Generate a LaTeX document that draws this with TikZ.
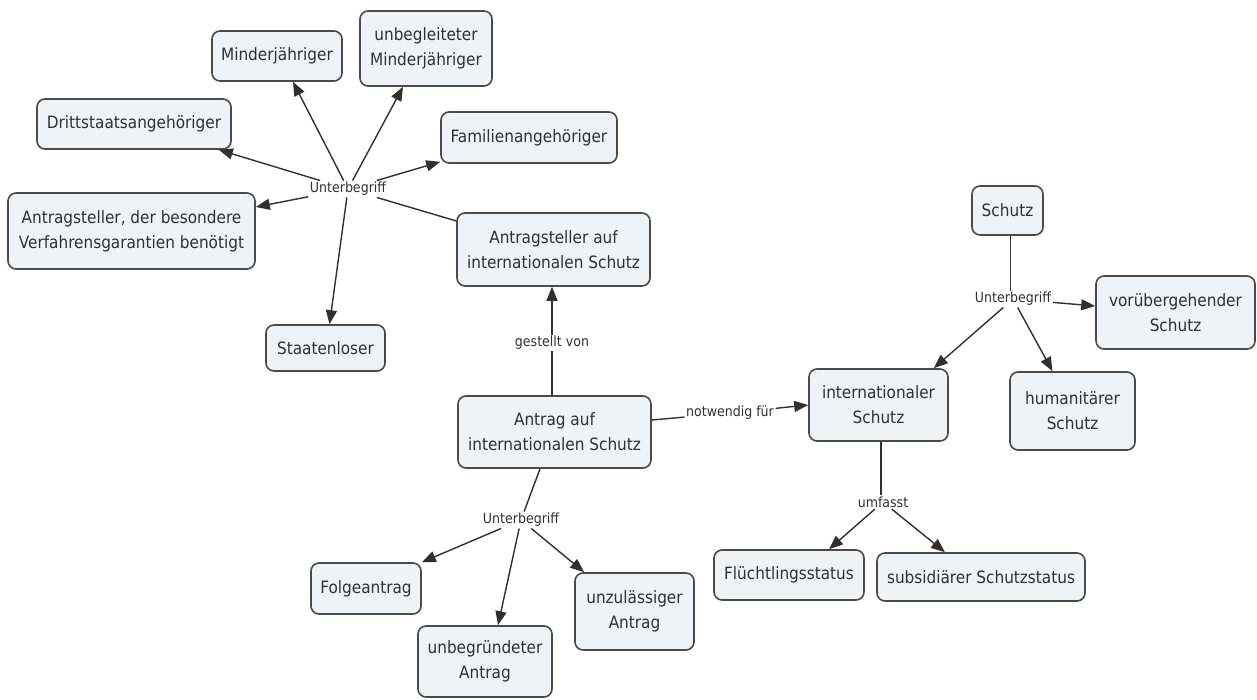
\documentclass[tikz,border=0pt]{standalone}
\usepackage{fontspec}
\setmainfont{DejaVu Sans Condensed}
\usetikzlibrary{arrows.meta}
\definecolor{boxfill}{HTML}{EEF3F7}
\definecolor{boxline}{HTML}{4A4A4A}
\definecolor{ink}{HTML}{303030}
\tikzset{
  concept/.style={draw=boxline, fill=boxfill, line width=1.6pt, rounded corners=8pt,
    align=center, inner sep=0pt, text=ink, font=\fontsize{17}{25}\selectfont},
  linkword/.style={fill=white, inner sep=1.5pt, text=ink, font=\fontsize{14}{16}\selectfont},
  link/.style={draw=ink, line width=1.4pt},
  linkarrow/.style={link, -{Triangle[length=14pt,width=11pt]}},
}
\begin{document}
\begin{tikzpicture}[x=1pt,y=-1pt]
\useasboundingbox (0,0) rectangle (1257,699);
\fill[white] (0,0) rectangle (1257,699);

% concepts
\node[concept, minimum width=130, minimum height=50] (mj) at (277,56) {Minderjähriger};
\node[concept, minimum width=132, minimum height=75] (um) at (426,48.5) {unbegleiteter\\Minderjähriger};
\node[concept, minimum width=194, minimum height=50] (dsa) at (134,124) {Drittstaatsangehöriger};
\node[concept, minimum width=176, minimum height=51] (fam) at (529,137.5) {Familienangehöriger};
\node[concept, minimum width=247, minimum height=76] (abv) at (131.5,231) {Antragsteller, der besondere\\Verfahrensgarantien benötigt};
\node[concept, minimum width=193, minimum height=73] (ais) at (553.5,249.5) {Antragsteller auf\\internationalen Schutz};
\node[concept, minimum width=119, minimum height=46] (sl) at (325.5,348) {Staatenloser};
\node[concept, minimum width=193, minimum height=72] (ant) at (554.5,432) {Antrag auf\\internationalen Schutz};
\node[concept, minimum width=139, minimum height=72] (ints) at (878.5,405) {internationaler\\Schutz};
\node[concept, minimum width=71, minimum height=49] (sch) at (1007.5,210.5) {Schutz};
\node[concept, minimum width=159, minimum height=73] (vor) at (1175.5,312.5) {vorübergehender\\Schutz};
\node[concept, minimum width=125, minimum height=78] (hum) at (1072.5,411) {humanitärer\\Schutz};
\node[concept, minimum width=150, minimum height=50] (flu) at (789,575) {Flüchtlingsstatus};
\node[concept, minimum width=208, minimum height=48] (sub) at (981,577) {subsidiärer Schutzstatus};
\node[concept, minimum width=110, minimum height=51] (fol) at (366,588.5) {Folgeantrag};
\node[concept, minimum width=134, minimum height=71] (unb) at (485,661.5) {unbegründeter\\Antrag};
\node[concept, minimum width=119, minimum height=77] (unz) at (634.5,611.5) {unzulässiger\\Antrag};

% linking words
\node[linkword] (l1) at (348,189) {Unterbegriff};
\node[linkword] (l2) at (552,343) {gestellt von};
\node[linkword] (l3) at (730,413) {notwendig für};
\node[linkword] (l4) at (1013,299) {Unterbegriff};
\node[linkword] (l5) at (883,502) {umfasst};
\node[linkword] (l6) at (521,520) {Unterbegriff};

% Antragsteller auf internationalen Schutz -> Unterbegriff
\draw[link] (ais) -- (l1);
\draw[linkarrow] (l1) -- ([xshift=-13]dsa.south east);
\draw[linkarrow] (l1) -- ([xshift=16]mj.south);
\draw[linkarrow] (l1) -- ([xshift=-23]um.south);
\draw[linkarrow] (l1) -- ([yshift=2]fam.south west);
\draw[linkarrow] (l1) -- ([yshift=24]abv.east);
\draw[linkarrow] (l1) -- ([xshift=4]sl.north);

% Antrag -> gestellt von -> Antragsteller
\draw[link] (ant.north -| l2) -- (l2);
\draw[linkarrow] (l2) -- (l2 |- ais.south);

% Antrag -> notwendig für -> internationaler Schutz
\draw[link] ([yshift=12]ant.east) -- (l3);
\draw[linkarrow] (l3) -- (ints.west);

% Antrag -> Unterbegriff
\draw[link] ([xshift=-14.5]ant.south) -- (l6);
\draw[linkarrow] (l6) -- (fol.north east);
\draw[linkarrow] (l6) -- ([xshift=13]unb.north);
\draw[linkarrow] (l6) -- ([xshift=10]unz.north west);

% Schutz -> Unterbegriff
\draw[link] ([xshift=3]sch.south) -- ([xshift=3]sch.south |- l4.north);
\draw[linkarrow] (l4) -- ([yshift=6.5]vor.west);
\draw[linkarrow] (l4) -- ([xshift=-15]ints.north east);
\draw[linkarrow] (l4) -- ([xshift=-20]hum.north);

% internationaler Schutz -> umfasst
\draw[link] ([xshift=2.5]ints.south) -- ([xshift=2.5]ints.south |- l5.north);
\draw[linkarrow] (l5) -- ([xshift=40]flu.north);
\draw[linkarrow] (l5) -- ([xshift=-36]sub.north);
\end{tikzpicture}
\end{document}
